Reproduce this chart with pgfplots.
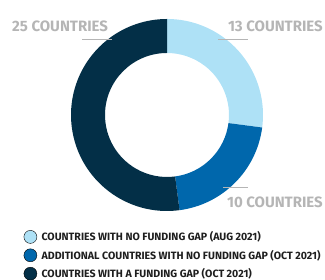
\documentclass[border=0pt]{standalone}
\usepackage{pgfplots}
\pgfplotsset{compat=1.18}
\usepackage{pgfplotstable}
\usepackage{fontspec}
\setmainfont{Fira Sans}
\definecolor{c1}{HTML}{AEE1F6}
\definecolor{c2}{HTML}{0067AC}
\definecolor{c3}{HTML}{032F47}
\definecolor{lbl}{HTML}{B5B5B5}
\definecolor{txt}{HTML}{1E1E1E}
\pgfplotstableread{
value
13
10
25
}\datatable
\pgfplotstablegetelem{0}{value}\of\datatable \let\va\pgfplotsretval
\pgfplotstablegetelem{1}{value}\of\datatable \let\vb\pgfplotsretval
\pgfplotstablegetelem{2}{value}\of\datatable \let\vc\pgfplotsretval
\pgfmathsetmacro\tot{\va+\vb+\vc}
\pgfmathsetmacro\aA{90}
\pgfmathsetmacro\aB{90-360*\va/\tot}
\pgfmathsetmacro\aC{\aB-360*\vb/\tot}
\pgfmathsetmacro\aD{\aC-360*\vc/\tot}
\def\cx{167}\def\cy{165}
\begin{document}
\begin{tikzpicture}
\begin{axis}[
  name=ax,
  x=1pt, y=1pt, xmin=0, xmax=325, ymin=0, ymax=280,
  hide axis, clip=false, scale only axis,
  legend image code/.code={\fill[#1] (0pt,0pt) circle (6.5pt);},
  legend style={at={(axis cs:23.5,50)}, anchor=north west, draw=none, fill=none,
    font=\fontsize{10.6}{13}\selectfont\bfseries, text=txt, row sep=5pt,
    column sep=4.5pt, inner sep=0pt, nodes={inner sep=0pt}},
  legend cell align=left,
]
\fill[c1] ([shift={(\aA:96pt)}]axis cs:\cx,\cy) arc[start angle=\aA, end angle=\aB, radius=96pt]
  -- ([shift={(\aB:62pt)}]axis cs:\cx,\cy) arc[start angle=\aB, end angle=\aA, radius=62pt] -- cycle;
\fill[c2] ([shift={(\aB:96pt)}]axis cs:\cx,\cy) arc[start angle=\aB, end angle=\aC, radius=96pt]
  -- ([shift={(\aC:62pt)}]axis cs:\cx,\cy) arc[start angle=\aC, end angle=\aB, radius=62pt] -- cycle;
\fill[c3] ([shift={(\aC:96pt)}]axis cs:\cx,\cy) arc[start angle=\aC, end angle=\aD, radius=96pt]
  -- ([shift={(\aD:62pt)}]axis cs:\cx,\cy) arc[start angle=\aD, end angle=\aC, radius=62pt] -- cycle;
\addlegendimage{fill=c1}
\addlegendentry{COUNTRIES WITH NO FUNDING GAP (AUG 2021)}
\addlegendimage{fill=c2}
\addlegendentry{ADDITIONAL COUNTRIES WITH NO FUNDING GAP (OCT 2021)}
\addlegendimage{fill=c3}
\addlegendentry{COUNTRIES WITH A FUNDING GAP (OCT 2021)}
\node[anchor=west, inner sep=0pt, text=lbl, font=\fontsize{15}{18}\selectfont\bfseries] at (axis cs:12,254) {25 COUNTRIES};
\node[anchor=east, inner sep=0pt, text=lbl, font=\fontsize{15}{18}\selectfont\bfseries] at (axis cs:323,254) {13 COUNTRIES};
\node[anchor=east, inner sep=0pt, text=lbl, font=\fontsize{15}{18}\selectfont\bfseries] at (axis cs:323,78) {10 COUNTRIES};
\draw[lbl, line width=1pt] (axis cs:82,240) -- (axis cs:112,240);
\draw[lbl, line width=1pt] (axis cs:218,240) -- (axis cs:248,240);
\draw[lbl, line width=1pt] (axis cs:223,92) -- (axis cs:248,92);
\end{axis}
\pgfresetboundingbox
\useasboundingbox (ax.south west) rectangle (ax.north east);
\end{tikzpicture}
\end{document}
